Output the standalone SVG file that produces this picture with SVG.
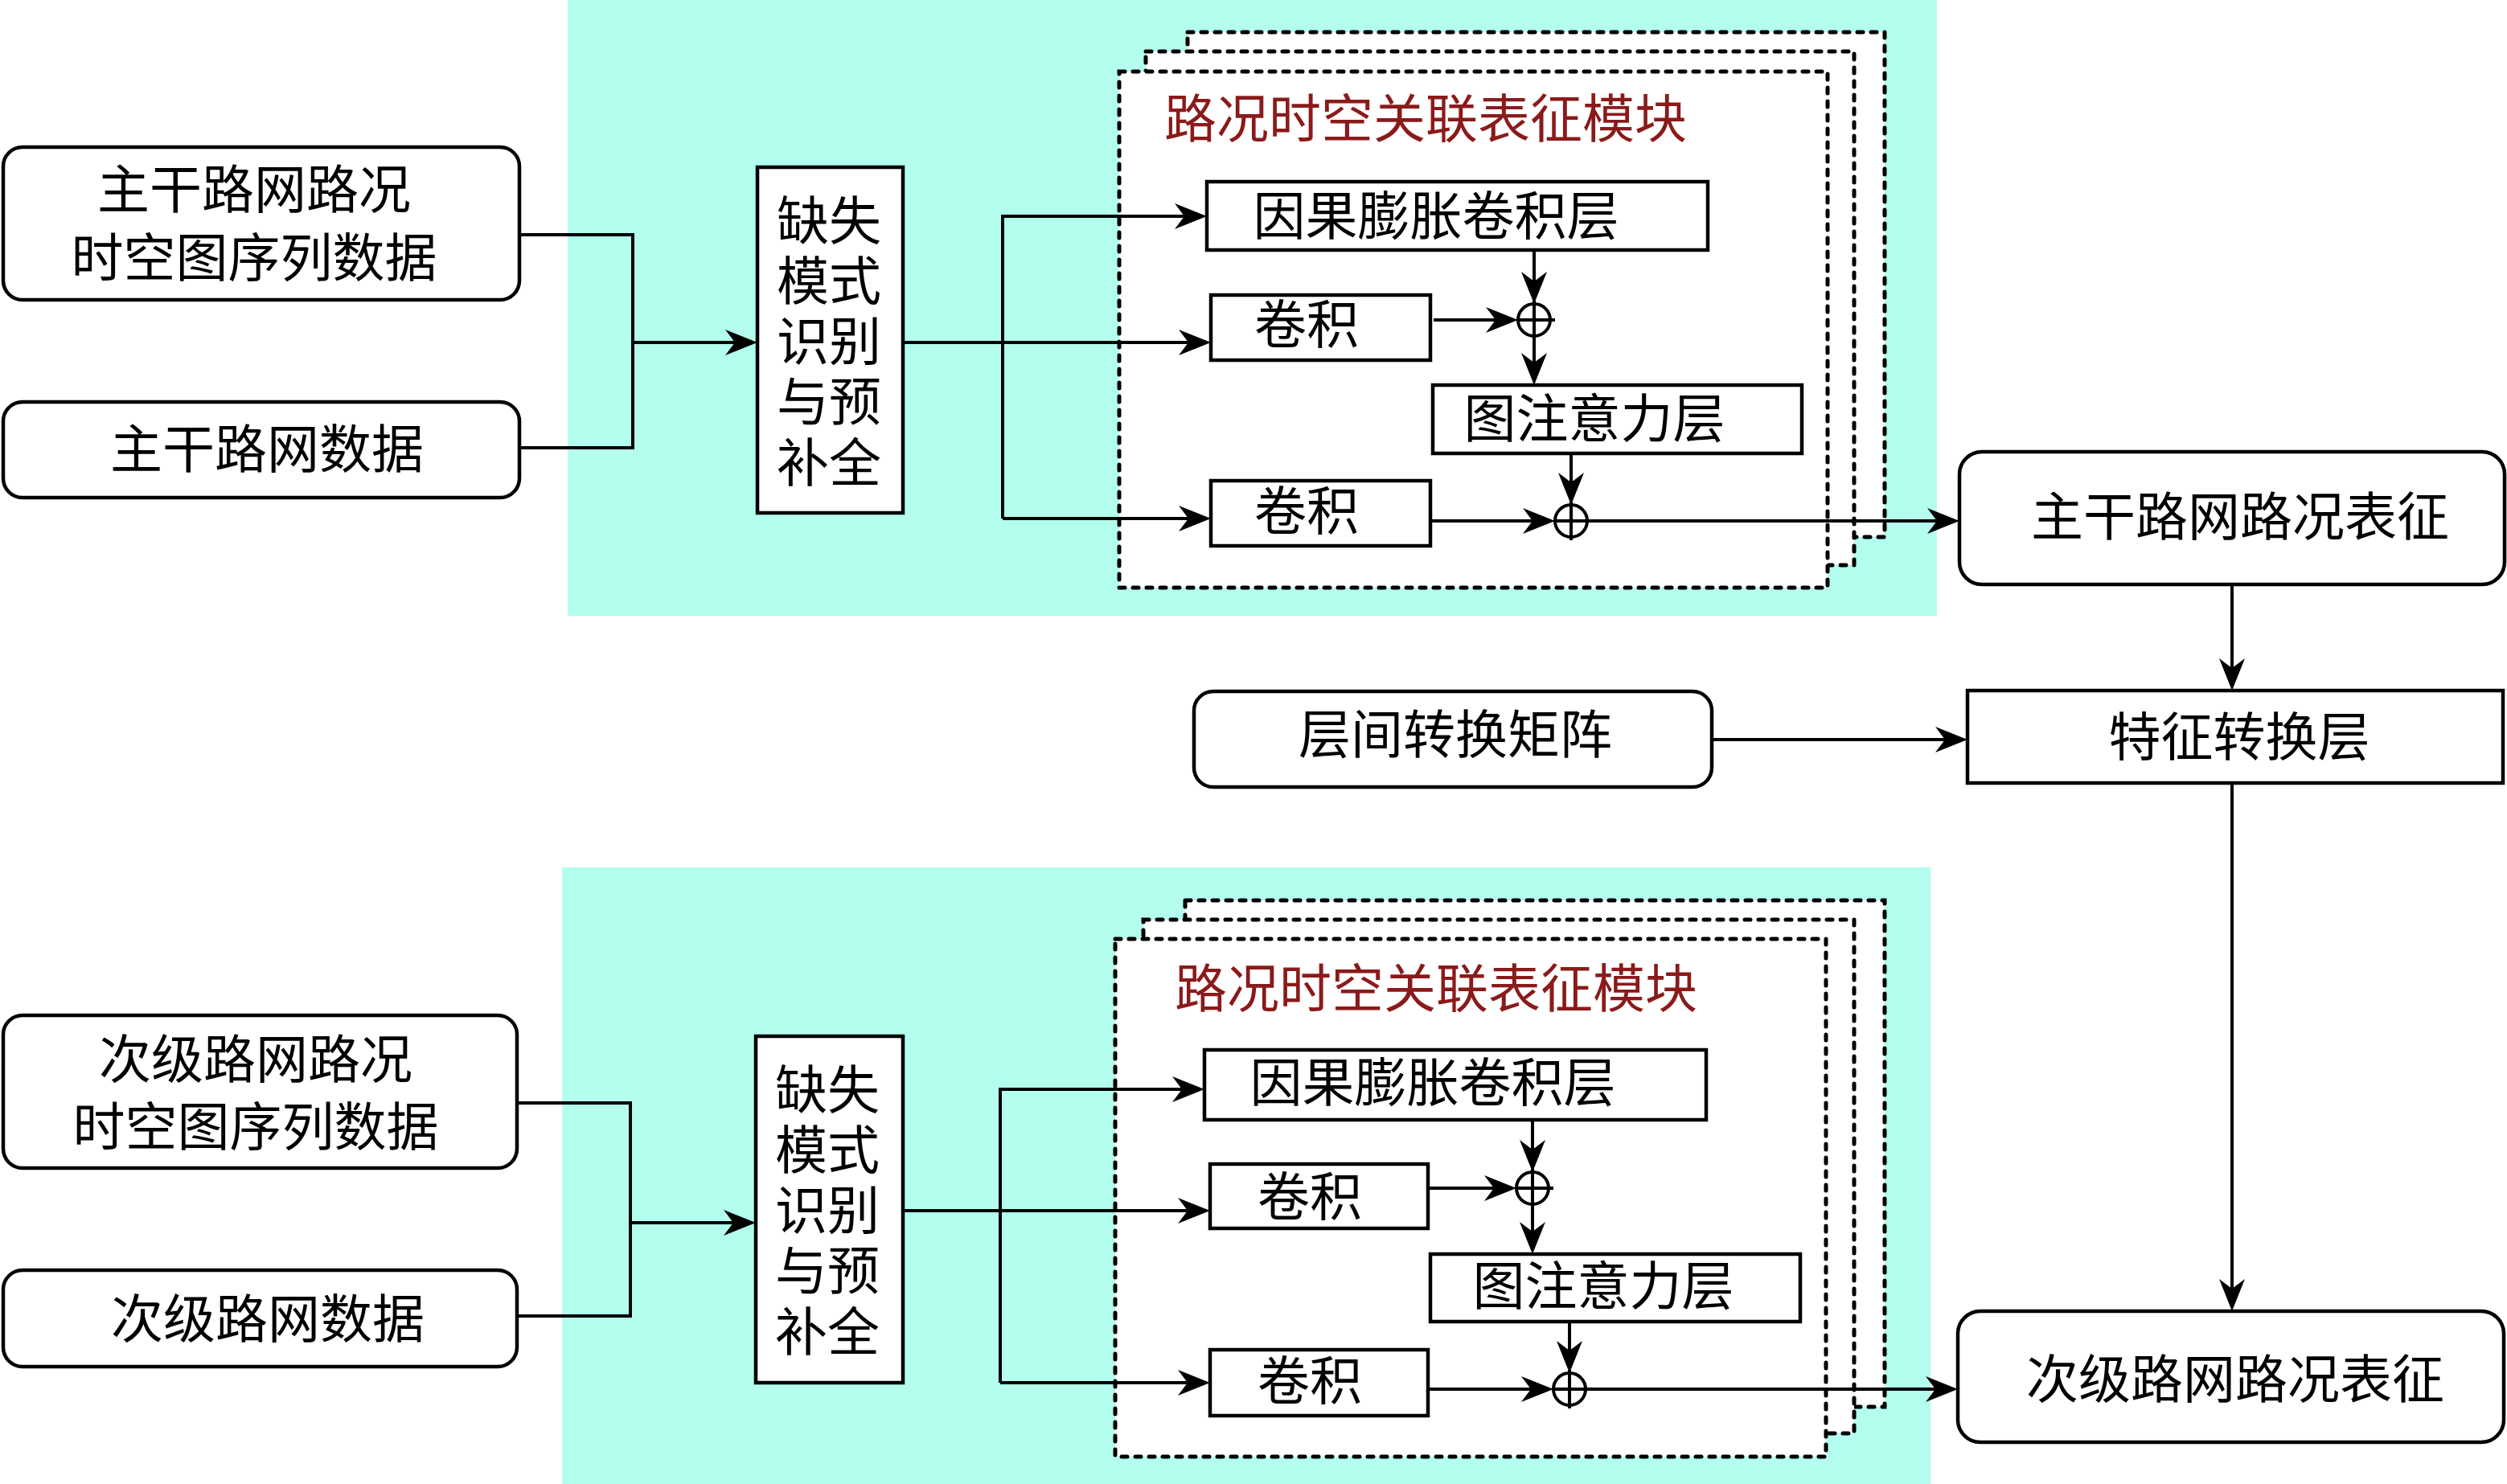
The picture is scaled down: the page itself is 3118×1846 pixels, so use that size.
<svg xmlns="http://www.w3.org/2000/svg" width="3118" height="1846" viewBox="0 0 3118 1846">
<defs>
<style>
.bg{fill:#B3FEEE;stroke:none}
.fr{fill:#fff;stroke:#000;stroke-width:5;stroke-dasharray:7 10;stroke-linecap:round}
.bx{fill:#fff;stroke:#000;stroke-width:4.5}
.t{font-family:"Liberation Serif","Noto Sans CJK SC",serif;font-size:65px;fill:#000;text-anchor:middle;dominant-baseline:central}
.ttl{fill:#8B1A1A}
.ln{fill:none;stroke:#000;stroke-width:4}
.ar{marker-end:url(#ah)}
.op{fill:none;stroke:#000;stroke-width:4}
</style>
<marker id="ah" viewBox="-32 -18 44 36" markerWidth="44" markerHeight="36" refX="0" refY="0" orient="auto" markerUnits="userSpaceOnUse">
<path d="M10,0 L-30,-16 L-18,0 L-30,16 Z" fill="#000"/>
</marker>
</defs>
<rect width="3118" height="1846" fill="#fff"/>

<g id="bg-upper"><rect class="bg" x="706" y="0" width="1703" height="766"/></g>
<g id="bg-lower"><rect class="bg" x="699" y="1079" width="1702" height="767"/></g>

<g id="module-upper">
<rect class="fr" x="1477" y="40" width="867" height="628"/>
<rect class="fr" x="1425" y="64" width="881" height="639"/>
<rect class="fr" x="1392" y="89" width="881" height="642"/>
<text class="t ttl" x="1773" y="149">路况时空关联表征模块</text>
</g>
<g id="module-lower">
<rect class="fr" x="1474" y="1120" width="870" height="630"/>
<rect class="fr" x="1422" y="1144" width="884" height="639"/>
<rect class="fr" x="1387" y="1168" width="884" height="644"/>
<text class="t ttl" x="1786" y="1231">路况时空关联表征模块</text>
</g>

<g id="in-main-seq"><rect class="bx" x="4" y="183" width="642" height="190" rx="24"/>
<text class="t" x="316" y="237">主干路网路况</text><text class="t" x="316" y="322">时空图序列数据</text></g>
<g id="in-main-data"><rect class="bx" x="4" y="500" width="642" height="119" rx="24"/>
<text class="t" x="332" y="560">主干路网数据</text></g>
<g id="impute-upper"><rect class="bx" x="942" y="208" width="181" height="430"/>
<text class="t" x="1031" y="276">缺失</text><text class="t" x="1031" y="351">模式</text><text class="t" x="1031" y="426">识别</text><text class="t" x="1031" y="501">与预</text><text class="t" x="1031" y="577">补全</text></g>
<g id="causal-upper"><rect class="bx" x="1501" y="226" width="623" height="85"/><text class="t" x="1786" y="270">因果膨胀卷积层</text></g>
<g id="conv1-upper"><rect class="bx" x="1506" y="367" width="273" height="81"/><text class="t" x="1625" y="405">卷积</text></g>
<g id="gat-upper"><rect class="bx" x="1782" y="479" width="459" height="85"/><text class="t" x="1983" y="522">图注意力层</text></g>
<g id="conv2-upper"><rect class="bx" x="1506" y="598" width="273" height="81"/><text class="t" x="1625" y="637">卷积</text></g>
<g id="add1-upper"><circle class="op" cx="1908" cy="398" r="20"/><path class="op" d="M1888,398 H1934 M1908,374 V422"/></g>
<g id="add2-upper"><circle class="op" cx="1954" cy="648" r="20"/><path class="op" d="M1934,648 H1978 M1954,624 V672"/></g>

<g id="out-main"><rect class="bx" x="2437" y="562" width="678" height="165" rx="28"/><text class="t" x="2786" y="644">主干路网路况表征</text></g>
<g id="transform"><rect class="bx" x="2447" y="859" width="666" height="115"/><text class="t" x="2785" y="918">特征转换层</text></g>
<g id="matrix"><rect class="bx" x="1485" y="860" width="644" height="119" rx="24"/><text class="t" x="1810" y="915">层间转换矩阵</text></g>
<g id="out-sub"><rect class="bx" x="2435" y="1631" width="679" height="163" rx="28"/><text class="t" x="2780" y="1717">次级路网路况表征</text></g>

<g id="in-sub-seq"><rect class="bx" x="4" y="1263" width="639" height="190" rx="24"/>
<text class="t" x="318" y="1319">次级路网路况</text><text class="t" x="318" y="1403">时空图序列数据</text></g>
<g id="in-sub-data"><rect class="bx" x="4" y="1580" width="639" height="120" rx="24"/>
<text class="t" x="333" y="1642">次级路网数据</text></g>
<g id="impute-lower"><rect class="bx" x="940" y="1289" width="183" height="431"/>
<text class="t" x="1029" y="1357">缺失</text><text class="t" x="1029" y="1432">模式</text><text class="t" x="1029" y="1507">识别</text><text class="t" x="1029" y="1582">与预</text><text class="t" x="1029" y="1658">补全</text></g>
<g id="causal-lower"><rect class="bx" x="1498" y="1306" width="624" height="87"/><text class="t" x="1782" y="1348">因果膨胀卷积层</text></g>
<g id="conv1-lower"><rect class="bx" x="1505" y="1448" width="271" height="80"/><text class="t" x="1629" y="1490">卷积</text></g>
<g id="gat-lower"><rect class="bx" x="1779" y="1560" width="460" height="84"/><text class="t" x="1994" y="1601">图注意力层</text></g>
<g id="conv2-lower"><rect class="bx" x="1505" y="1679" width="271" height="82"/><text class="t" x="1629" y="1719">卷积</text></g>
<g id="add1-lower"><circle class="op" cx="1906" cy="1478" r="20"/><path class="op" d="M1886,1478 H1932 M1906,1454 V1502"/></g>
<g id="add2-lower"><circle class="op" cx="1952" cy="1728" r="20"/><path class="op" d="M1932,1728 H1976 M1952,1704 V1752"/></g>

<g id="connectors">
<path class="ln" d="M646,292 H787 V557 H646"/>
<path class="ln ar" d="M787,426 H932"/>
<path class="ln ar" d="M1123,426 H1496"/>
<path class="ln ar" d="M1247,645 V269 H1491"/>
<path class="ln ar" d="M1247,645 H1496"/>
<path class="ln ar" d="M1908,311 V368"/>
<path class="ln ar" d="M1783,398 H1878"/>
<path class="ln ar" d="M1908,418 V469"/>
<path class="ln ar" d="M1954,564 V618"/>
<path class="ln ar" d="M1779,648 H1924"/>
<path class="ln ar" d="M1974,648 H2427"/>
<path class="ln ar" d="M2776,727 V849"/>
<path class="ln ar" d="M2129,920 H2437"/>
<path class="ln ar" d="M2776,974 V1621"/>

<path class="ln" d="M643,1372 H784 V1637 H643"/>
<path class="ln ar" d="M784,1521 H930"/>
<path class="ln ar" d="M1123,1506 H1495"/>
<path class="ln ar" d="M1244,1720 V1355 H1488"/>
<path class="ln ar" d="M1244,1720 H1495"/>
<path class="ln ar" d="M1906,1393 V1448"/>
<path class="ln ar" d="M1776,1478 H1876"/>
<path class="ln ar" d="M1906,1498 V1550"/>
<path class="ln ar" d="M1952,1644 V1698"/>
<path class="ln ar" d="M1776,1728 H1922"/>
<path class="ln ar" d="M1972,1728 H2425"/>
</g>
</svg>
